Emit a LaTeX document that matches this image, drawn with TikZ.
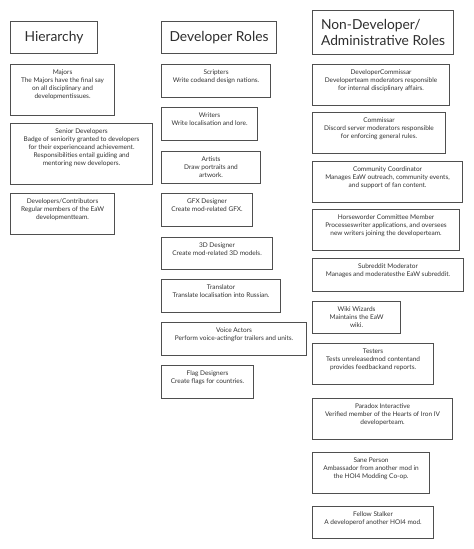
\documentclass[tikz,border=0pt]{standalone}
\usepackage{fontspec}
\setmainfont{Lato}
\definecolor{boxline}{HTML}{4F4F4F}
\definecolor{txtcol}{HTML}{333333}
\definecolor{titlecol}{HTML}{2E2E2E}
\tikzset{
  rolebox/.style={draw=boxline, line width=1.1pt, rectangle, inner sep=0pt, anchor=north west},
  roletext/.style={anchor=north, align=center, inner sep=0pt, text=txtcol, font=\fontsize{6.5}{8}\selectfont},
  titletext/.style={anchor=center, align=center, inner sep=0pt, text=titlecol, font=\fontsize{13.8}{16.5}\selectfont},
}
% #1 name, #2 x1, #3 y1, #4 x2, #5 y2, #6 text
\newcommand\rolebx[6]{%
  \node[rolebox, minimum width={(#4-#2)*1pt}, minimum height={(#5-#3)*1pt}] (#1) at (#2,#3) {};
  \node[roletext] (#1-t) at ([yshift=-5.5pt]#1.north) {#6};
}
\newcommand\titlebx[7][center]{%
  \node[rolebox, minimum width={(#5-#3)*1pt}, minimum height={(#6-#4)*1pt}] (#2) at (#3,#4) {};
  \node[titletext, align=#1] (#2-t) at (#2.center) {#7};
}
\begin{document}
\begin{tikzpicture}[x=1pt,y=-1pt]
\useasboundingbox[fill=white] (0,0) rectangle (474,549);
% column 1
\titlebx{hier}{10}{21}{97}{53}{Hierarchy}
\rolebx{majors}{10}{64}{114}{115}{Majors\\The Majors have the final say\\on all disciplinary and\\developmentissues.}
\rolebx{senior}{10}{123}{152}{184}{Senior Developers\\Badge of seniority granted to developers\\for their experienceand achievement.\\Responsibilities entail guiding and\\mentoring new developers.}
\rolebx{devs}{10}{193}{114}{234}{Developers/Contributors\\Regular members of the EaW\\developmentteam.}
% column 2
\titlebx{devroles}{161}{21}{276}{53}{Developer Roles}
\rolebx{scripters}{161}{64}{270}{97}{Scripters\\Write codeand design nations.}
\rolebx{writers}{161}{107}{257}{140}{Writers\\Write localisation and lore.}
\rolebx{artists}{161}{151}{260}{183}{Artists\\Draw portraits and\\artwork.}
\rolebx{gfx}{161}{193}{252}{226}{GFX Designer\\Create mod-related GFX.}
\rolebx{threed}{161}{237}{272}{269}{3D Designer\\Create mod-related 3D models.}
\rolebx{translator}{161}{279}{280}{312}{Translator\\Translate localisation into Russian.}
\rolebx{voice}{161}{322}{306}{355}{Voice Actors\\Perform voice-actingfor trailers and units.}
\rolebx{flag}{161}{365}{253}{398}{Flag Designers\\Create flags for countries.}
% column 3
\titlebx[left]{nondev}{312}{10}{453}{54}{Non-Developer/\\Administrative Roles}
\rolebx{devcom}{312}{64}{449}{105}{DeveloperCommissar\\Developerteam moderators responsible\\for internal disciplinary affairs.}
\rolebx{commissar}{312}{112}{445}{153}{Commissar\\Discord server moderators responsible\\for enforcing general rules.}
\rolebx{community}{312}{161}{462}{202}{Community Coordinator\\Manages EaW outreach, community events,\\and support of fan content.}
\rolebx{horse}{312}{209}{459}{250}{Horseworder Committee Member\\Processeswriter applications, and oversees\\new writers joining the developerteam.}
\rolebx{subreddit}{312}{258}{463}{291}{Subreddit Moderator\\Manages and moderatesthe EaW subreddit.}
\rolebx{wiki}{312}{301}{400}{333}{Wiki Wizards\\Maintains the EaW\\wiki.}
\rolebx{testers}{312}{343}{433}{384}{Testers\\Tests unreleasedmod contentand\\provides feedbackand reports.}
\rolebx{paradox}{312}{398}{452}{439}{Paradox Interactive\\Verified member of the Hearts of Iron IV\\developerteam.}
\rolebx{sane}{312}{452}{429}{493}{Sane Person\\Ambassador from another mod in\\the HOI4 Modding Co-op.}
\rolebx{fellow}{312}{506}{433}{538}{Fellow Stalker\\A developerof another HOI4 mod.}
\end{tikzpicture}
\end{document}
